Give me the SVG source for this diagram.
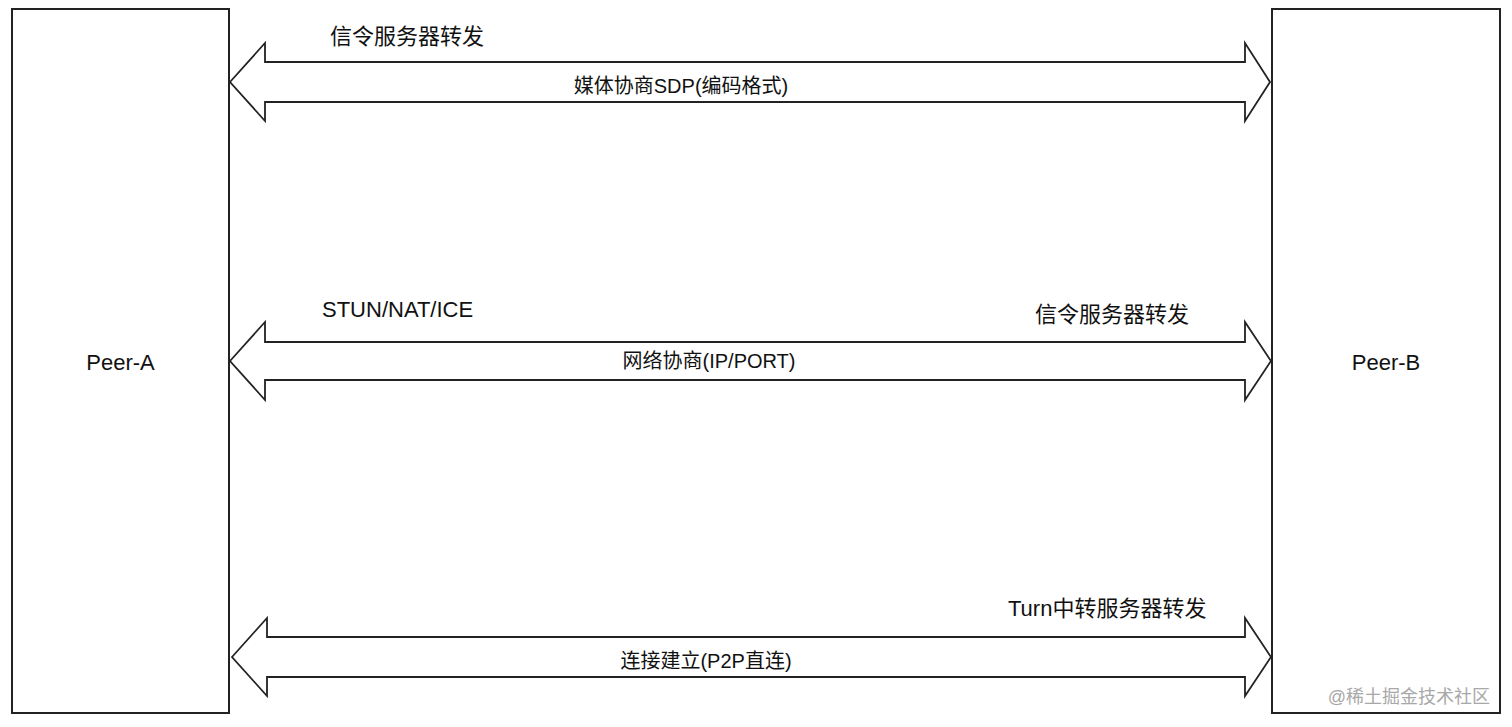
<svg xmlns="http://www.w3.org/2000/svg" width="1512" height="727" viewBox="0 0 1512 727">
<style>
.box{fill:#fff;stroke:#222;stroke-width:2}
.arr{fill:#fff;stroke:#222;stroke-width:1.8;stroke-linejoin:miter}
text{font-family:"Liberation Sans","Noto Sans CJK SC",sans-serif;fill:#111}
.lg{font-size:22px}
.md{font-size:20px}
.wm{font-size:18px;fill:#a8a8a8}
</style>
<rect width="1512" height="727" fill="#fff"/>
<g id="peer-a">
<rect class="box" x="12" y="9" width="217" height="704"/>
<text class="lg" x="120.5" y="370" text-anchor="middle">Peer-A</text>
</g>
<g id="peer-b">
<rect class="box" x="1272" y="9" width="228" height="704"/>
<text class="lg" x="1386" y="370" text-anchor="middle">Peer-B</text>
</g>
<g id="connectors">
<g id="sdp">
<polygon class="arr" points="230,82 265,43 265,62 1245,62 1245,43 1270,82 1245,121 1245,102 265,102 265,121"/>
<text class="lg" x="330" y="44">信令服务器转发</text>
<text class="md" x="681" y="93" text-anchor="middle">媒体协商SDP(编码格式)</text>
</g>
<g id="ice">
<polygon class="arr" points="230,361 265,322 265,342 1245,342 1245,322 1271,361 1245,400 1245,380 265,380 265,400"/>
<text class="lg" x="322" y="317">STUN/NAT/ICE</text>
<text class="lg" x="1035" y="322">信令服务器转发</text>
<text class="md" x="709" y="368" text-anchor="middle">网络协商(IP/PORT)</text>
</g>
<g id="p2p">
<polygon class="arr" points="232,657 267,618 267,637 1245,637 1245,618 1271,657 1245,696 1245,677 267,677 267,696"/>
<text class="lg" x="1008" y="616">Turn中转服务器转发</text>
<text class="md" x="706" y="668" text-anchor="middle">连接建立(P2P直连)</text>
</g>
</g>
<text class="wm" x="1490" y="703" text-anchor="end">@稀土掘金技术社区</text>
</svg>
